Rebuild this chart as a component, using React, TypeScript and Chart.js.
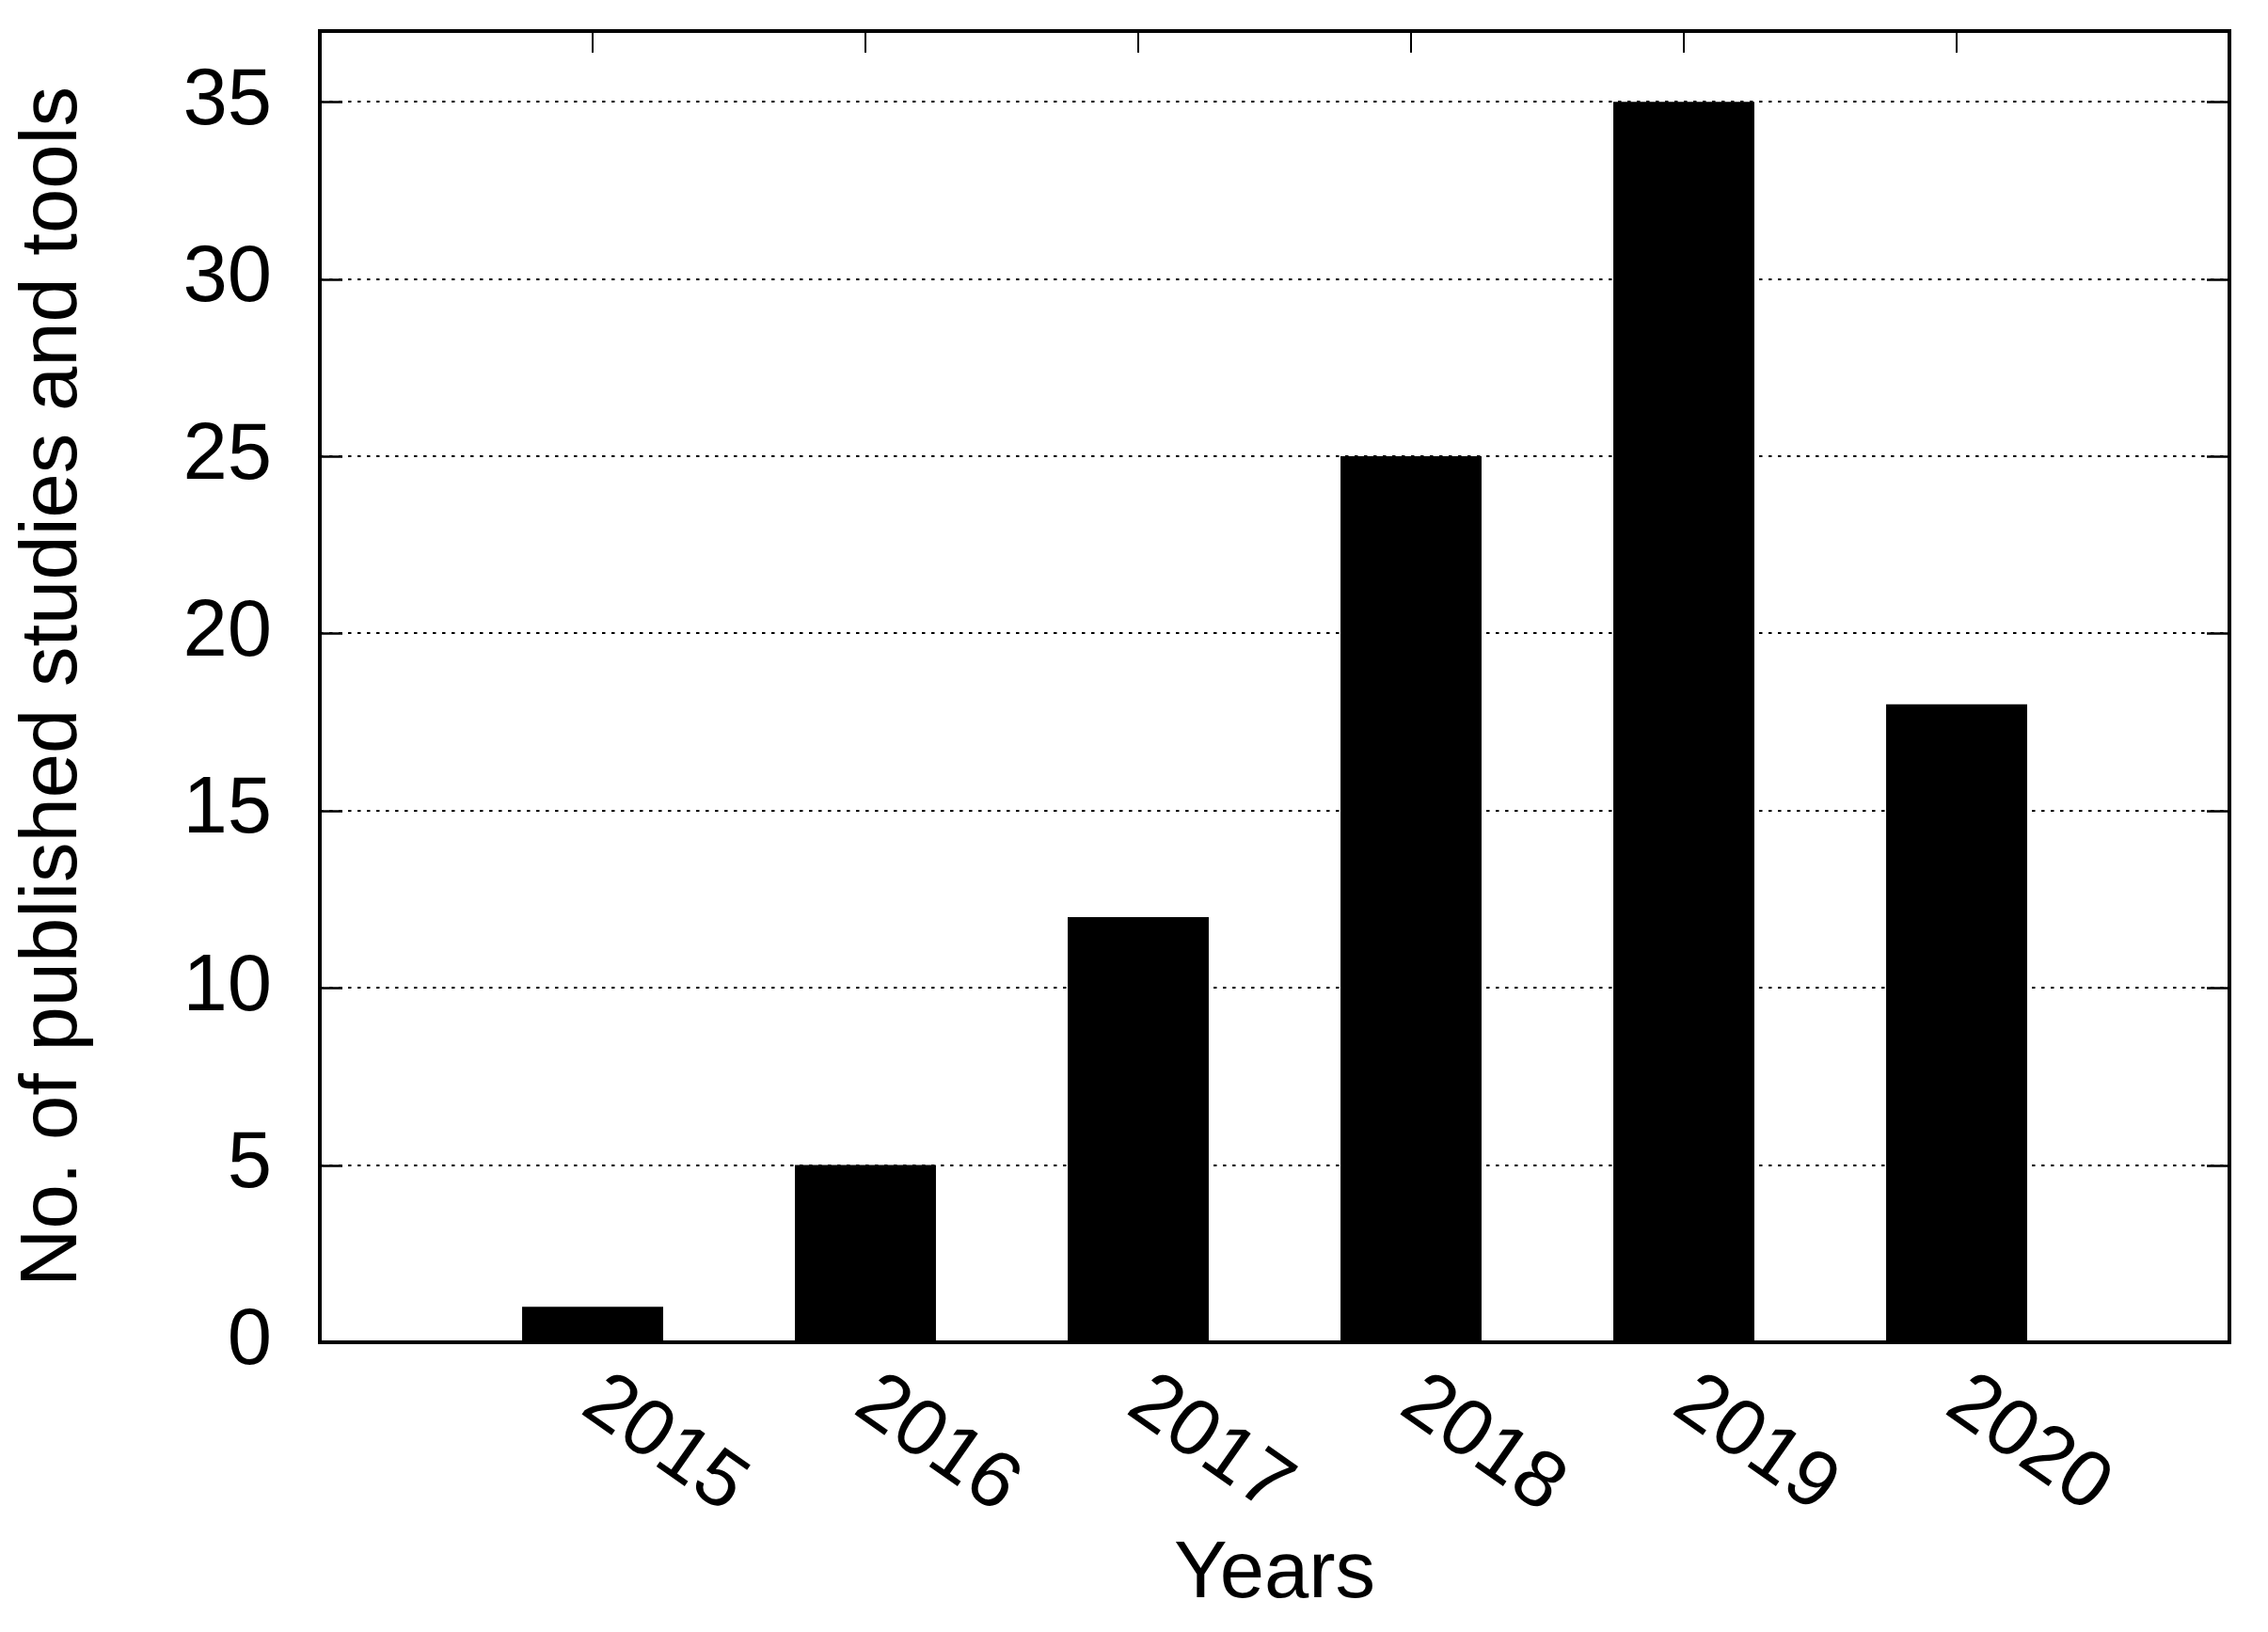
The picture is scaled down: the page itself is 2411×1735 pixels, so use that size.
import React, { useEffect, useRef } from 'react';
import { Chart, registerables } from 'chart.js';

Chart.register(...registerables);

// ---- data ----
const years: string[] = ['2015', '2016', '2017', '2018', '2019', '2020'];
const counts: number[] = [1, 5, 12, 25, 35, 18];
const yAxisMax = 37;
const yTickStep = 5;
const xTitle = 'Years';
const yTitle = 'No. of published studies and tools';

const FONT = '"Liberation Sans", Arial, Helvetica, sans-serif';
const FONT_SIZE = 85;
const W = 2411;
const H = 1735;

export default function App() {
  const ref = useRef<HTMLCanvasElement>(null);

  useEffect(() => {
    const canvas = ref.current;
    if (!canvas) return;
    // one empty slot on each side, like gnuplot's x range [2014:2021]
    const labels = ['', ...years, ''];
    const data = [null, ...counts, null];

    const framePlugin = {
      id: 'gnuplotFrame',
      afterDatasetsDraw(chart: any) {
        const { ctx, chartArea: a, scales } = chart;
        const xs = scales.x;
        const ys = scales.y;
        ctx.save();
        ctx.strokeStyle = '#000';
        ctx.setLineDash([]);
        // inward y ticks, left & right
        ctx.lineWidth = 2.5;
        ys.ticks.forEach((t: any) => {
          const py = Math.round(ys.getPixelForValue(t.value)) + 0.5;
          ctx.beginPath();
          ctx.moveTo(a.left, py);
          ctx.lineTo(a.left + 24, py);
          ctx.moveTo(a.right, py);
          ctx.lineTo(a.right - 24, py);
          ctx.stroke();
        });
        // inward x ticks, top & bottom
        ctx.lineWidth = 2;
        labels.forEach((lab, i) => {
          if (!lab) return;
          const px = Math.round(xs.getPixelForValue(i));
          ctx.beginPath();
          ctx.moveTo(px, a.top);
          ctx.lineTo(px, a.top + 23);
          ctx.moveTo(px, a.bottom);
          ctx.lineTo(px, a.bottom - 23);
          ctx.stroke();
        });
        // frame
        ctx.lineWidth = 4;
        ctx.strokeRect(a.left, a.top, a.right - a.left, a.bottom - a.top);
        // rotated x tick labels (gnuplot "rotate by -35", left justified)
        ctx.fillStyle = '#000';
        ctx.font = `${FONT_SIZE}px ${FONT}`;
        ctx.textAlign = 'left';
        ctx.textBaseline = 'alphabetic';
        labels.forEach((lab, i) => {
          if (!lab) return;
          const px = xs.getPixelForValue(i);
          ctx.save();
          ctx.translate(px - 15, a.bottom + 74);
          ctx.rotate((35 * Math.PI) / 180);
          ctx.fillText(lab, 0, 0);
          ctx.restore();
        });
        ctx.restore();
      },
    };

    const chart = new Chart(canvas, {
      type: 'bar',
      data: {
        labels,
        datasets: [
          {
            data,
            backgroundColor: '#000',
            borderWidth: 0,
            barPercentage: 0.517,
            categoryPercentage: 1,
          },
        ],
      },
      options: {
        animation: false,
        responsive: false,
        devicePixelRatio: 1,
        layout: { padding: { top: 33, right: 41, left: 0, bottom: 0 } },
        plugins: {
          legend: { display: false },
          tooltip: { enabled: false },
        },
        scales: {
          x: {
            type: 'category',
            offset: false,
            grid: { display: false, drawTicks: false },
            border: { display: false },
            ticks: { display: false },
            title: {
              display: true,
              text: xTitle,
              color: '#000',
              font: { family: FONT, size: FONT_SIZE, lineHeight: 1.2 },
              padding: { top: 0, bottom: 9.5 },
            },
            afterFit: (s: any) => {
              s.height = 308;
              s.paddingLeft = 0;
              s.paddingRight = 0;
            },
          },
          y: {
            type: 'linear',
            min: 0,
            max: yAxisMax,
            grid: { display: true, color: '#000', lineWidth: 2, drawTicks: false },
            border: { display: false, dash: [3.5, 6.5] },
            ticks: {
              stepSize: yTickStep,
              includeBounds: false,
              padding: 51,
              color: '#000',
              font: { family: FONT, size: FONT_SIZE, lineHeight: 1.2 },
            },
            title: {
              display: true,
              text: yTitle,
              color: '#000',
              font: { family: FONT, size: FONT_SIZE, lineHeight: 1.2 },
              padding: { top: 6.5, bottom: 0 },
            },
            afterFit: (s: any) => {
              s.width = 340;
              s.paddingTop = 0;
              s.paddingBottom = 0;
            },
          },
        },
      },
      plugins: [framePlugin],
    } as any);

    return () => chart.destroy();
  }, []);

  return (
    <div style={{ position: 'fixed', left: 0, top: 0, width: W, height: H, background: '#fff' }}>
      <canvas ref={ref} width={W} height={H} style={{ display: 'block', width: W, height: H }} />
    </div>
  );
}
